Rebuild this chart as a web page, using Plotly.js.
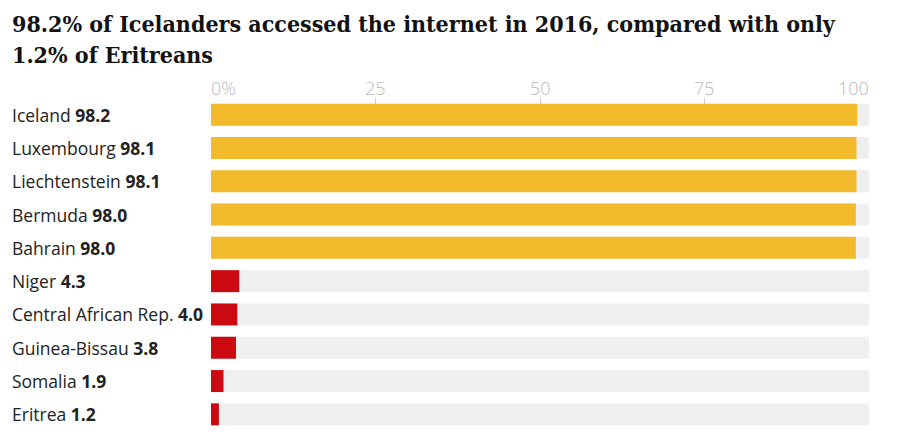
<!DOCTYPE html>
<html>
<head>
<meta charset="utf-8">
<script src="https://cdn.plot.ly/plotly-3.0.1.min.js"></script>
<style>html,body{margin:0;padding:0;background:#fff;}#chart{width:900px;height:436px;}</style>
</head>
<body>
<div id="chart"></div>
<script>
const countries = ["Iceland","Luxembourg","Liechtenstein","Bermuda","Bahrain","Niger","Central African Rep.","Guinea-Bissau","Somalia","Eritrea"];
const values = [98.2, 98.1, 98.1, 98.0, 98.0, 4.3, 4.0, 3.8, 1.9, 1.2];
const group = ["top","top","top","top","top","bottom","bottom","bottom","bottom","bottom"];
const fullScale = [100,100,100,100,100,100,100,100,100,100];
const tickVals = [0, 25, 50, 75, 100];
const tickText = ["0%", "25", "50", "75", "100"];
const titleLines = ["98.2% of Icelanders accessed the internet in 2016, compared with only", "1.2% of Eritreans"];

const colorMap = {top: "#f3bb2c", bottom: "#cc0a11"};

const W = 900, H = 436, ML = 211, MR = 31, MT = 98, MB = 5;
const PW = W - ML - MR, PH = H - MT - MB;

const traces = [
  {type: "bar", orientation: "h", y: countries, x: fullScale,
   marker: {color: "#efefef"}, hoverinfo: "skip", showlegend: false},
  {type: "bar", orientation: "h", y: countries, x: values,
   marker: {color: group.map(g => colorMap[g])}, hoverinfo: "skip", showlegend: false}
];

const annotations = countries.map((c, i) => ({
  xref: "paper", yref: "y", x: (10 - ML) / PW, y: c,
  xanchor: "left", yanchor: "middle", showarrow: false,
  text: c + " <b>" + values[i].toFixed(1) + "</b>",
  font: {family: "Open Sans", size: 17.5, color: "#222222"}
}));

tickVals.forEach((v, i) => {
  annotations.push({
    xref: "x", yref: "paper", x: v, y: 1 + (MT - 87.5) / PH,
    xanchor: i === 0 ? "left" : (i === tickVals.length - 1 ? "right" : "center"),
    yanchor: "middle", showarrow: false, text: tickText[i],
    xshift: i === 0 ? -2 : (i === tickVals.length - 1 ? 2 : 0),
    font: {family: "Open Sans", size: 18, color: "#b8b8b8", weight: 300}
  });
});

const titleCenters = [24, 55];
titleLines.forEach((t, i) => {
  annotations.push({
    xref: "paper", yref: "paper", x: (10 - ML) / PW, y: 1 + (MT - titleCenters[i]) / PH,
    xanchor: "left", yanchor: "middle", align: "left", showarrow: false,
    text: t,
    font: {family: "DejaVu Serif Condensed, DejaVu Serif", size: 23, color: "#121212", weight: 700}
  });
});

const layout = {
  width: W, height: H,
  margin: {l: ML, r: MR, t: MT, b: MB},
  paper_bgcolor: "#fff", plot_bgcolor: "#fff",
  barmode: "overlay", bargap: 0.34,
  xaxis: {side: "top", range: [0, 100], tickvals: tickVals, showticklabels: false,
          ticks: "inside", ticklen: 6, tickcolor: "#cccccc", tickwidth: 1,
          showgrid: true, gridcolor: "rgba(255,255,255,0.6)", gridwidth: 1,
          zeroline: false, showline: false, layer: "above traces", fixedrange: true},
  yaxis: {autorange: "reversed", showticklabels: false, showgrid: false, zeroline: false, ticks: "", fixedrange: true},
  annotations: annotations,
  hovermode: false
};

Plotly.newPlot("chart", traces, layout, {displayModeBar: false, staticPlot: true});
</script>
</body>
</html>
